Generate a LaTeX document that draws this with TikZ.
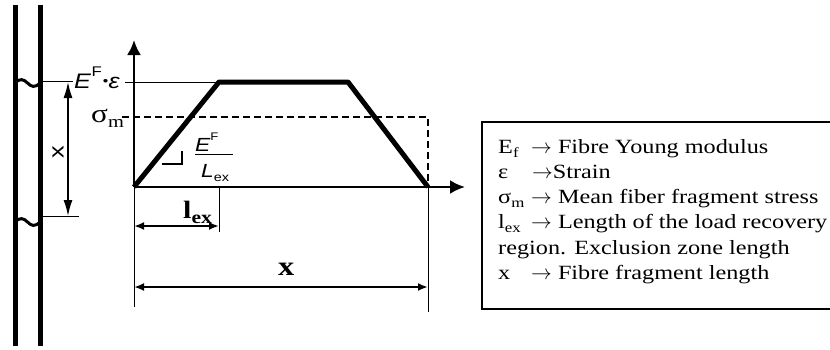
\documentclass[tikz,border=0pt]{standalone}
\usepackage{fontspec}
\setmainfont{Liberation Serif}[FakeStretch=1.2]
\setsansfont{Liberation Sans}[FakeStretch=1.2]
\usetikzlibrary{arrows.meta}
\newcommand\lsub[2][14]{\raisebox{-0.22em}{\fontsize{#1}{#1}\selectfont #2}}
\newcommand\lsup[2][13]{\raisebox{0.55em}{\fontsize{#1}{#1}\selectfont #2}}
\newcommand\rarr{$\rightarrow$}
\begin{document}
\begin{tikzpicture}[x=1pt,y=-1pt,
  fiber/.style={line width=5pt},
  wavy/.style={line width=3pt},
  thinline/.style={line width=1pt},
  axis/.style={line width=2.5pt,-{Latex[length=15pt,width=14pt]}},
  curve/.style={line width=5pt,line join=round},
  meanline/.style={line width=2pt,dash pattern=on 7pt off 4pt},
  dim/.style={line width=2pt,{Latex[length=10pt,width=8pt]}-{Latex[length=10pt,width=8pt]}},
  leftdim/.style={line width=1.5pt,{Latex[length=16pt,width=9pt]}-{Latex[length=16pt,width=9pt]}},
  lbl/.style={inner sep=0pt,anchor=base west},
  legsym/.style={inner sep=0pt,anchor=base west,font=\fontsize{20.2}{25}\selectfont},
  legbox/.style={line width=1.5pt}]
\useasboundingbox (0,0) rectangle (830,349);
% fibre
\coordinate (f1t) at (15,5);  \coordinate (f1b) at (15,346);
\coordinate (f2t) at (40,5);  \coordinate (f2b) at (40,346);
\draw[fiber] (f1t) -- (f1b);
\draw[fiber] (f2t) -- (f2b);
\coordinate (w1a) at (15,83); \coordinate (w1m) at (27.5,83); \coordinate (w1b) at (40,83);
\coordinate (w2a) at (15,222); \coordinate (w2m) at (27.5,222); \coordinate (w2b) at (40,222);
\draw[wavy] (w1a) .. controls (20,78) and (23.5,79) .. (w1m) .. controls (31.5,87) and (35,88) .. (w1b);
\draw[wavy] (w2a) .. controls (20,217) and (23.5,218) .. (w2m) .. controls (31.5,226) and (35,227) .. (w2b);
% fragment marks
\coordinate (lt1) at (40,81); \coordinate (lt2) at (73,81);
\coordinate (lb1) at (40,216); \coordinate (lb2) at (79,216);
\draw[thinline] (lt1) -- (lt2);
\draw[thinline] (lb1) -- (lb2);
\coordinate (la) at (68,82); \coordinate (lb) at (68,216);
\draw[leftdim] (la) -- (lb);
\node[rotate=90,inner sep=0pt,font=\sffamily\fontsize{21}{21}\selectfont] (xl) at (58,152) {x};
% axes
\coordinate (O) at (134,187);
\coordinate (ytop) at (134,40);
\coordinate (xend) at (465,187);
\draw[axis] (O) -- (ytop);
\draw[axis] (O) -- (xend);
% trapezoid
\coordinate (A) at (219,82);
\coordinate (B) at (348,82);
\coordinate (C) at (428,187);
\coordinate (etick) at (125,82);
\draw[thinline] (etick) -- (A);
\coordinate (sm1) at (122,117);
\coordinate (sm2) at (428,117);
\draw[meanline] (sm1) -- (sm2) -- (C);
\draw[curve] (O) -- (A) -- (B) -- (C);
% labels on axis
\node[lbl,font=\sffamily\fontsize{21}{21}\selectfont] (eps) at (74,88)
  {\itshape E\kern0.5pt\upshape\lsup[14]{F}\kern1pt\raisebox{3pt}{\fontsize{13}{13}\selectfont •}\kern0.5pt\itshape ε};
\node[lbl,font=\fontsize{26}{26}\selectfont] (sig) at (91,122) {σ\lsub[17]{m}};
% slope marker
\coordinate (ra1) at (182,151);
\coordinate (ra2) at (182,164);
\coordinate (ra3) at (162,164);
\draw[line width=1.5pt] (ra1) -- (ra2) -- (ra3);
\node[lbl,font=\sffamily\fontsize{19}{19}\selectfont] (num) at (195,151) {\itshape E\upshape\lsup[11]{F}};
\coordinate (fb1) at (195,154.5); \coordinate (fb2) at (233,154.5);
\draw[thinline] (fb1) -- (fb2);
\node[lbl,font=\sffamily\fontsize{19}{19}\selectfont] (den) at (201,177) {\itshape L\upshape\lsub[12]{ex}};
% dimension lines
\coordinate (v0b) at (134,307);
\coordinate (v1t) at (219,187); \coordinate (v1b) at (219,232);
\coordinate (v2b) at (428,312);
\draw[thinline] (O) -- (v0b);
\draw[thinline] (v1t) -- (v1b);
\draw[thinline] (C) -- (v2b);
\coordinate (d1a) at (134,226); \coordinate (d1b) at (219,226);
\draw[dim] (d1a) -- (d1b);
\node[lbl,font=\bfseries\fontsize{25}{25}\selectfont] (lex) at (183,218) {l\lsub[18]{ex}};
\coordinate (d2a) at (134,287); \coordinate (d2b) at (428,287);
\draw[dim] (d2a) -- (d2b);
\node[lbl,font=\bfseries\fontsize{27}{27}\selectfont] (xx) at (278,275) {x};
% legend
\coordinate (bx1) at (830,122); \coordinate (bx2) at (482,122);
\coordinate (bx3) at (482,309); \coordinate (bx4) at (830,309);
\draw[legbox] (bx1) -- (bx2) -- (bx3) -- (bx4);
\node[legsym] (s1) at (498,153) {E\lsub{f}};
\node[legsym] (t1) at (531,153) {\rarr{} Fibre Young modulus};
\node[legsym] (s2) at (498,178) {ε};
\node[legsym] (t2) at (532,178) {\rarr{}Strain};
\node[legsym] (s3) at (498,203) {σ\lsub{m}};
\node[legsym] (t3) at (531,203) {\rarr{} Mean fiber fragment stress};
\node[legsym] (s4) at (498,228) {l\lsub{ex}};
\node[legsym] (t4) at (531,228) {\rarr{} Length of the load recovery};
\node[legsym] (t5) at (498,254) {region. Exclusion zone length};
\node[legsym] (s6) at (498,279) {x};
\node[legsym] (t6) at (531,279) {\rarr{} Fibre fragment length};
\end{tikzpicture}
\end{document}
